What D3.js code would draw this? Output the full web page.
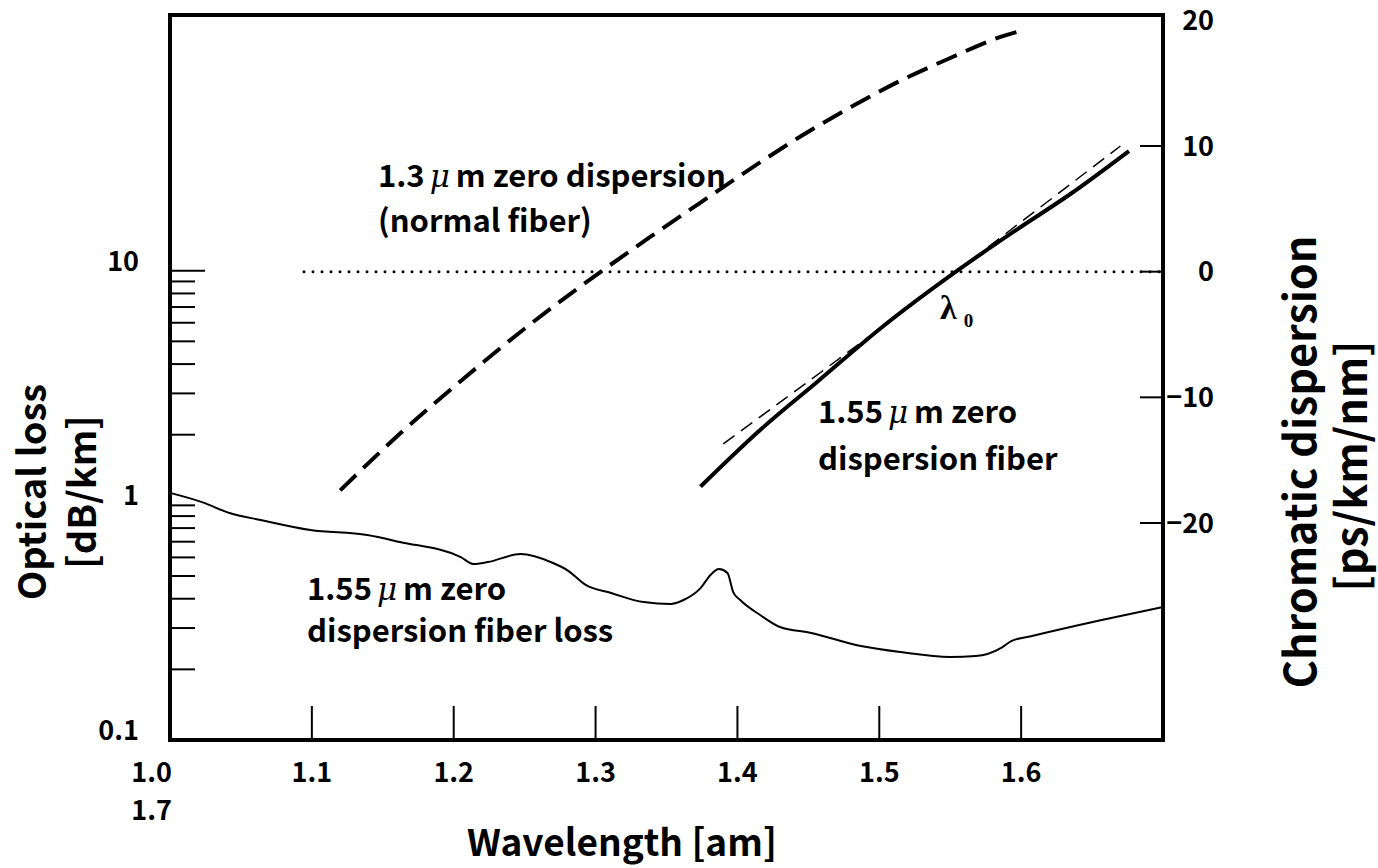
<!DOCTYPE html>
<html>
<head>
<meta charset="utf-8">
<script src="https://cdn.jsdelivr.net/npm/d3@7"></script>
<style>
  body { margin: 0; background: #fff; }
  svg text { font-family: "Noto Sans CJK JP", "Noto Sans", sans-serif; fill: #000; }
</style>
</head>
<body>
<svg id="chart" width="1378" height="868"></svg>
<script>
// wavelength [um] / loss [dB/km] of the 1.55um zero dispersion fiber
var lossWavelength = [1.000, 1.023, 1.042, 1.064, 1.099, 1.139, 1.162, 1.205, 1.214, 1.224, 1.247,
                      1.270, 1.280, 1.293, 1.311, 1.334, 1.353, 1.362, 1.374, 1.381, 1.387, 1.393,
                      1.397, 1.402, 1.416, 1.430, 1.452, 1.487, 1.515, 1.550, 1.568, 1.586, 1.593,
                      1.607, 1.656, 1.700];
var lossValues = [1.13, 1.03, 0.927, 0.866, 0.785, 0.747, 0.698, 0.602, 0.562, 0.573, 0.620,
                  0.568, 0.530, 0.458, 0.423, 0.387, 0.380, 0.395, 0.444, 0.505, 0.535, 0.515,
                  0.427, 0.395, 0.341, 0.303, 0.286, 0.2515, 0.237, 0.226, 0.228, 0.247, 0.264,
                  0.277, 0.324, 0.369];

// chromatic dispersion [ps/km/nm], 1.3um zero dispersion (normal fiber)
var normalWavelength = [1.120, 1.162, 1.205, 1.247, 1.277, 1.305, 1.339, 1.374, 1.408, 1.445,
                        1.480, 1.515, 1.550, 1.586, 1.601];
var normalDispersion = [-17.4, -12.9, -8.7, -4.8, -2.2, 0.1, 2.8, 5.5, 8.1, 10.8,
                        13.1, 15.2, 17.0, 18.7, 19.2];

// 1.55um zero dispersion fiber
var dsfWavelength = [1.374, 1.416, 1.457, 1.501, 1.554, 1.595, 1.635, 1.676];
var dsfDispersion = [-17.1, -12.6, -8.7, -4.5, 0, 3.2, 6.2, 9.6];

// linear slope approximation around lambda0
var slopeWavelength = [1.390, 1.472, 1.554, 1.612, 1.670];
var slopeDispersion = [-13.7, -6.9, 0, 5.0, 10.0];

var wavelengthTicks = [1.1, 1.2, 1.3, 1.4, 1.5, 1.6];
var lossTickLabels = [0.1, 1, 10];
var lossMinorTicks = [0.2, 0.3, 0.4, 0.5, 0.6, 0.7, 0.8, 0.9, 1, 2, 3, 4, 5, 6, 7, 8, 9];
var dispersionTicks = [10, 0, -10, -20];
var dispersionTickLabels = [20, 10, 0, -10, -20];

var svg = d3.select("#chart");

var plotLeft = 170, plotRight = 1163, plotTop = 15, plotBottom = 740;

var x = d3.scaleLinear().domain([1.0, 1.7]).range([plotLeft, plotRight]);
var yLoss = d3.scaleLog().domain([0.1, 10]).range([plotBottom, 270.7]);
var yDisp = d3.scaleLinear().domain([-20, 10]).range([523, 146]);

function pairs(xs, ys) {
  return xs.map(function(v, i) { return [v, ys[i]]; });
}

var lossLine = d3.line()
    .x(function(d) { return x(d[0]); })
    .y(function(d) { return yLoss(d[1]); })
    .curve(d3.curveMonotoneX);

var dispLine = d3.line()
    .x(function(d) { return x(d[0]); })
    .y(function(d) { return yDisp(d[1]); })
    .curve(d3.curveMonotoneX);

// zero dispersion reference
svg.append("line")
    .attr("x1", 304).attr("x2", plotRight)
    .attr("y1", yDisp(0)).attr("y2", yDisp(0))
    .attr("stroke", "#000")
    .attr("stroke-width", 3)
    .attr("stroke-linecap", "round")
    .attr("stroke-dasharray", "0,9");

// ticks, drawn inward
var g = svg.append("g").attr("stroke", "#000");

g.selectAll(".xtick")
    .data(wavelengthTicks)
  .enter().append("line")
    .attr("x1", function(d) { return x(d); })
    .attr("x2", function(d) { return x(d); })
    .attr("y1", plotBottom).attr("y2", plotBottom - 34)
    .attr("stroke-width", 2);

g.selectAll(".lminor")
    .data(lossMinorTicks)
  .enter().append("line")
    .attr("x1", plotLeft).attr("x2", plotLeft + 25)
    .attr("y1", function(d) { return yLoss(d); })
    .attr("y2", function(d) { return yLoss(d); })
    .attr("stroke-width", 2);

g.append("line")
    .attr("x1", plotLeft).attr("x2", plotLeft + 35)
    .attr("y1", yLoss(10)).attr("y2", yLoss(10))
    .attr("stroke-width", 2);

g.selectAll(".rtick")
    .data(dispersionTicks)
  .enter().append("line")
    .attr("x1", plotRight - 23).attr("x2", plotRight)
    .attr("y1", function(d) { return yDisp(d); })
    .attr("y2", function(d) { return yDisp(d); })
    .attr("stroke-width", 2);

// curves
svg.append("path")
    .datum(pairs(lossWavelength, lossValues))
    .attr("d", lossLine)
    .attr("fill", "none").attr("stroke", "#000").attr("stroke-width", 2);

svg.append("path")
    .datum(pairs(normalWavelength, normalDispersion))
    .attr("d", dispLine)
    .attr("fill", "none").attr("stroke", "#000").attr("stroke-width", 4)
    .attr("stroke-dasharray", "22,10");

svg.append("path")
    .datum(pairs(slopeWavelength, slopeDispersion))
    .attr("d", dispLine)
    .attr("fill", "none").attr("stroke", "#000").attr("stroke-width", 1.5)
    .attr("stroke-dasharray", "14,8");

svg.append("path")
    .datum(pairs(dsfWavelength, dsfDispersion))
    .attr("d", dispLine)
    .attr("fill", "none").attr("stroke", "#000").attr("stroke-width", 4);

// frame
svg.append("rect")
    .attr("x", plotLeft).attr("y", plotTop)
    .attr("width", plotRight - plotLeft).attr("height", plotBottom - plotTop)
    .attr("fill", "none").attr("stroke", "#000").attr("stroke-width", 4);

// tick labels
svg.selectAll(".xlabel")
    .data(wavelengthTicks)
  .enter().append("text")
    .attr("x", function(d) { return x(d); })
    .attr("y", 782)
    .attr("text-anchor", "middle")
    .style("font-size", "27px").style("font-weight", "bold")
    .text(function(d) { return d.toFixed(1); });

svg.append("text").attr("x", 172).attr("y", 782).attr("text-anchor", "end")
    .style("font-size", "27px").style("font-weight", "bold").text("1.0");
svg.append("text").attr("x", 172).attr("y", 820).attr("text-anchor", "end")
    .style("font-size", "27px").style("font-weight", "bold").text("1.7");

svg.selectAll(".llabel")
    .data(lossTickLabels)
  .enter().append("text")
    .attr("x", 139)
    .attr("y", function(d) { return yLoss(d); })
    .attr("text-anchor", "end")
    .style("font-size", "27px").style("font-weight", "bold")
    .text(function(d) { return d; });

svg.selectAll(".rlabel")
    .data(dispersionTickLabels)
  .enter().append("text")
    .attr("x", 1214)
    .attr("y", function(d) { return yDisp(d); })
    .attr("dy", "0.36em")
    .attr("text-anchor", "end")
    .style("font-size", "27px").style("font-weight", "bold")
    .text(function(d) { return d < 0 ? "\u2212" + Math.abs(d) : d; });

// axis titles
svg.append("text")
    .attr("x", 622).attr("y", 856)
    .attr("text-anchor", "middle")
    .style("font-size", "37px").style("font-weight", "bold")
    .text("Wavelength [am]");

function vtitle(tx, ty, size, label) {
  svg.append("text")
      .attr("transform", "translate(" + tx + "," + ty + ") rotate(-90)")
      .attr("text-anchor", "middle")
      .style("font-size", size + "px").style("font-weight", "bold")
      .text(label);
}
vtitle(46, 492, 38, "Optical loss");
vtitle(96, 492, 38, "[dB/km]");
vtitle(1316, 462, 43, "Chromatic dispersion");
vtitle(1367, 466, 43, "[ps/km/nm]");

// annotations
function note(tx, ty, head, tail) {
  var t = svg.append("text")
      .attr("x", tx).attr("y", ty)
      .style("font-size", "31px").style("font-weight", "bold");
  if (head != null) {
    t.append("tspan").text(head);
    t.append("tspan").attr("dx", 5)
        .style("font-family", "'DejaVu Serif', serif").style("font-style", "italic")
        .style("font-weight", "normal").text("\u03bc");
    t.append("tspan").attr("dx", 6).text(tail);
  } else {
    t.text(tail);
  }
}
note(378, 187, "1.3", "m zero dispersion");
note(378, 232, null, "(normal fiber)");
note(818, 423, "1.55", "m zero");
note(818, 470, null, "dispersion fiber");
note(307, 600, "1.55", "m zero");
note(307, 642, null, "dispersion fiber loss");

var lam = svg.append("text")
    .attr("x", 940).attr("y", 319)
    .style("font-family", "'Liberation Serif', 'DejaVu Serif', serif")
    .style("font-size", "34px").style("font-weight", "bold");
lam.append("tspan").text("\u03bb");
lam.append("tspan").attr("dx", 7).attr("dy", 8)
    .style("font-size", "19px").text("0");
</script>
</body>
</html>
